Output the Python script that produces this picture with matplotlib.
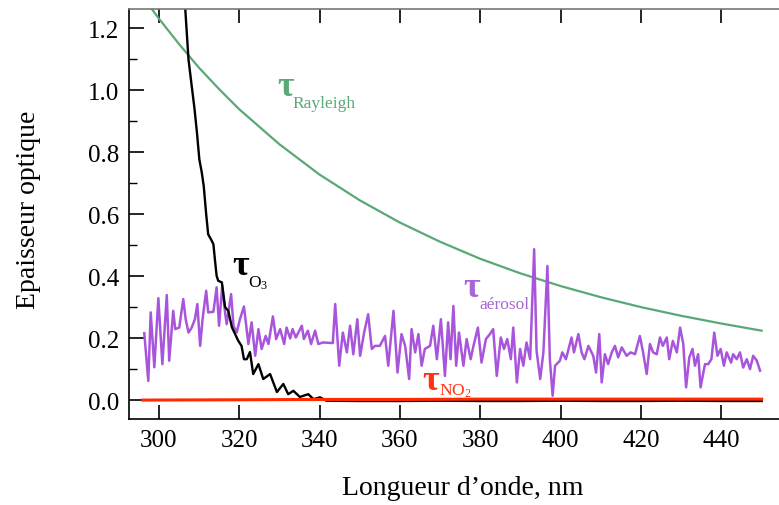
import matplotlib
matplotlib.use("Agg")
import matplotlib.pyplot as plt
from matplotlib.ticker import MultipleLocator

plt.rcParams['font.family'] = ['Liberation Serif', 'DejaVu Serif']
plt.rcParams['mathtext.fontset'] = 'custom'
plt.rcParams['mathtext.rm'] = 'Liberation Serif'
plt.rcParams['mathtext.it'] = 'Liberation Serif:italic'
plt.rcParams['mathtext.bf'] = 'Liberation Serif:bold'

# Rayleigh optical depth
wl_ray = [296, 298, 300, 305, 310, 315, 320, 330, 340, 350, 360, 370,
          380, 390, 400, 410, 420, 430, 440, 450]
tau_ray = [1.303, 1.267, 1.232, 1.150, 1.073, 1.004, 0.939, 0.826, 0.728,
           0.645, 0.573, 0.511, 0.456, 0.409, 0.368, 0.332, 0.300, 0.272,
           0.247, 0.224]

# ozone optical depth
wl_o3 = [296, 300, 303, 305, 306.6, 307.4, 308.2, 308.9, 309.5, 310.1, 310.7,
         311.2, 311.8, 312.3, 313.2, 313.6, 314.0, 314.4, 314.8, 315.7, 316.5,
         317.3, 318.2, 319.0, 319.8, 320.6, 321.2, 321.9, 322.7, 323.5, 324.8,
         326.0, 327.7, 329.4, 331.0, 332.2, 333.5, 335.1, 337.2, 338.5, 340.1,
         341.7, 350, 360, 370, 380, 390, 400, 410, 420, 430, 440, 450]
tau_o3 = [4.5, 3.0, 2.0, 1.6, 1.262, 1.10, 1.014, 0.94, 0.864, 0.777, 0.735,
          0.69, 0.60, 0.535, 0.514, 0.503, 0.45, 0.401, 0.385, 0.380, 0.300,
          0.288, 0.235, 0.213, 0.191, 0.175, 0.132, 0.132, 0.155, 0.084, 0.116,
          0.068, 0.084, 0.026, 0.052, 0.019, 0.030, 0.010, 0.019, 0.003, 0.009,
          -0.002, -0.003, -0.003, -0.002, -0.003, -0.003, -0.002, -0.003,
          -0.003, -0.002, -0.003, -0.003]

# NO2 optical depth
wl_no2 = [296, 320, 340, 360, 380, 400, 420, 440, 450]
tau_no2 = [0.000, 0.001, 0.002, 0.002, 0.003, 0.003, 0.003, 0.003, 0.003]

# aerosol optical depth
wl_aer = [296.4, 297.4, 298.0, 298.9, 299.9, 300.9, 302.0, 302.6, 303.6, 304.1,
          305.1, 306.1, 306.7, 307.4, 308.2, 309.0, 309.6, 310.3, 310.9, 311.8,
          312.3, 313.6, 314.4, 315.0, 315.8, 316.5, 316.9, 318.0, 318.6, 319.4,
          320.2, 321.2, 322.3, 323.1, 324.0, 324.8, 325.6, 326.6, 327.3, 328.4,
          329.2, 330.2, 331.2, 331.8, 332.7, 333.3, 334.1, 335.6, 336.1, 337.1,
          337.9, 338.9, 339.7, 340.9, 343.3, 343.9, 344.9, 345.8, 346.8, 347.6,
          348.4, 349.4, 350.1, 351.1, 352.1, 353.0, 353.8, 355.0, 356.3, 357.1,
          358.4, 359.4, 360.4, 361.3, 362.3, 362.9, 363.8, 364.6, 365.4, 366.2,
          367.5, 368.3, 369.2, 370.2, 371.2, 372.0, 372.6, 373.3, 374.0, 374.7,
          375.8, 376.6, 377.6, 378.3, 379.4, 380.3, 381.4, 382.4, 383.2, 384.1,
          385.1, 385.9, 386.7, 387.6, 388.2, 389.1, 389.9, 390.7, 391.5, 392.4,
          393.4, 394.0, 394.9, 395.7, 396.7, 397.3, 398.0, 398.6, 399.8, 400.4,
          401.3, 402.7, 403.3, 404.4, 405.2, 405.9, 406.9, 408.1, 408.8, 409.6,
          410.2, 411.0, 411.8, 412.7, 413.5, 414.3, 415.2, 416.4, 417.4, 418.5,
          419.7, 420.5, 421.4, 422.2, 423.0, 423.9, 424.7, 425.4, 426.4, 427.0,
          427.9, 428.9, 429.7, 430.5, 431.2, 432.0, 432.8, 433.4, 434.2, 434.8,
          435.9, 436.7, 437.5, 438.2, 439.0, 439.8, 440.6, 441.3, 442.4, 442.9,
          443.8, 444.6, 445.4, 446.3, 447.1, 447.9, 448.8, 449.6]
tau_aer = [0.216, 0.062, 0.283, 0.106, 0.329, 0.116, 0.339, 0.127, 0.288, 0.229,
           0.234, 0.326, 0.261, 0.218, 0.234, 0.261, 0.310, 0.175, 0.261, 0.353,
           0.283, 0.285, 0.364, 0.240, 0.369, 0.283, 0.245, 0.342, 0.240, 0.218,
           0.261, 0.302, 0.181, 0.251, 0.143, 0.229, 0.165, 0.207, 0.181, 0.270,
           0.197, 0.229, 0.181, 0.234, 0.199, 0.229, 0.202, 0.240, 0.197, 0.224,
           0.181, 0.224, 0.181, 0.186, 0.184, 0.310, 0.111, 0.218, 0.154, 0.240,
           0.148, 0.261, 0.143, 0.218, 0.277, 0.165, 0.175, 0.175, 0.207, 0.111,
           0.288, 0.089, 0.213, 0.175, 0.068, 0.229, 0.154, 0.213, 0.111, 0.165,
           0.175, 0.240, 0.132, 0.261, 0.078, 0.251, 0.132, 0.304, 0.111, 0.218,
           0.111, 0.197, 0.132, 0.175, 0.234, 0.121, 0.197, 0.213, 0.229, 0.078,
           0.202, 0.165, 0.197, 0.132, 0.234, 0.057, 0.165, 0.111, 0.186, 0.132,
           0.487, 0.159, 0.068, 0.154, 0.433, 0.132, 0.014, 0.111, 0.127, 0.154,
           0.132, 0.202, 0.154, 0.213, 0.154, 0.132, 0.175, 0.143, 0.089, 0.213,
           0.057, 0.148, 0.116, 0.154, 0.175, 0.138, 0.170, 0.143, 0.154, 0.148,
           0.207, 0.154, 0.084, 0.181, 0.154, 0.148, 0.202, 0.175, 0.202, 0.132,
           0.191, 0.154, 0.234, 0.181, 0.041, 0.138, 0.165, 0.111, 0.148, 0.041,
           0.116, 0.116, 0.132, 0.218, 0.143, 0.165, 0.111, 0.154, 0.121, 0.148,
           0.132, 0.154, 0.105, 0.132, 0.100, 0.143, 0.127, 0.095]

fig = plt.figure(figsize=(7.79, 5.06), dpi=100)
ax = fig.add_axes([0.1656, 0.170, 0.840, 0.810])

ax.plot(wl_ray, tau_ray, color='#5aa876', lw=1.6)
ax.plot(wl_aer, tau_aer, color='#a855dc', lw=1.8)
ax.plot(wl_o3, tau_o3, color='black', lw=1.7)
ax.plot(wl_no2, tau_no2, color='#ff2a00', lw=2.2)

ax.set_xlim(292.6, 455.4)
ax.set_ylim(-0.061, 1.262)
ax.xaxis.set_major_locator(MultipleLocator(20))
ax.yaxis.set_major_locator(MultipleLocator(0.2))
ax.yaxis.set_minor_locator(MultipleLocator(0.1))
ax.yaxis.set_major_formatter(matplotlib.ticker.FormatStrFormatter('%.1f'))

ax.tick_params(axis='both', which='major', direction='in', labelsize=18,
               top=True, right=True, length=10, width=1.2, pad=7)
ax.tick_params(axis='y', which='major', length=11)
ax.tick_params(axis='y', which='major', right=False)
ax.tick_params(axis='y', which='minor', direction='in', left=True, right=False,
               length=6, width=1.0)
# short marks on the right edge, the right spine itself falls off the canvas
ax.spines['right'].set_visible(False)
for yt in [0.0, 0.2, 0.4, 0.6, 0.8, 1.0, 1.2]:
    ax.plot([0.995, 1.0], [yt, yt], transform=ax.get_yaxis_transform(),
            color='#444444', lw=1.2, clip_on=False)
for side in ['left', 'bottom', 'top']:
    ax.spines[side].set_linewidth(1.2)
ax.spines['top'].set_color('#777777')

ax.set_xlabel("Longueur d\u2019onde, nm", fontsize=20)
ax.set_ylabel("Epaisseur optique", fontsize=20)
ax.xaxis.set_label_coords(0.51, -0.137)
ax.yaxis.set_label_coords(-0.135, 0.512)


def tau_label(x, y, sub, color, dy=-8.5):
    ax.text(x, y, "\u03c4", color=color, fontsize=26, fontweight='bold',
            va='baseline', ha='left')
    ax.annotate(sub, xy=(x, y), xytext=(11.5, dy), textcoords='offset points',
                color=color, fontsize=12.5, va='baseline', ha='left')


tau_label(329.4, 0.984, "Rayleigh", '#5aaa78')
tau_label(318.2, 0.406, r"$\mathrm{O}_3$", 'black')
tau_label(375.7, 0.335, "a\u00e9rosol", '#a766d6')
tau_label(365.7, 0.035, r"$\mathrm{NO}_2$", '#ff3311', dy=-4)

fig.savefig("out.png", dpi=100)
